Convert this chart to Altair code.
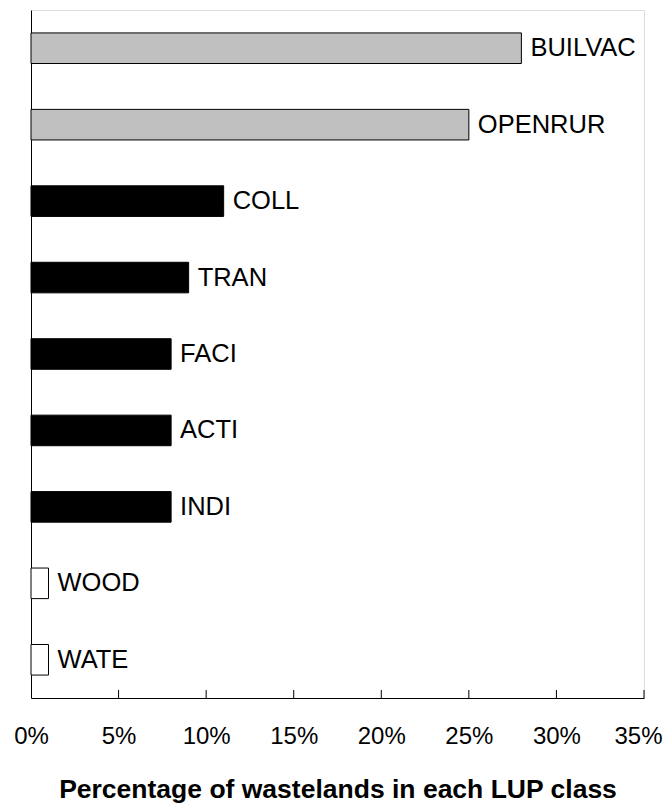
import altair as alt
import pandas as pd

categories = ["BUILVAC", "OPENRUR", "COLL", "TRAN", "FACI", "ACTI", "INDI", "WOOD", "WATE"]
values = [0.28, 0.25, 0.11, 0.09, 0.08, 0.08, 0.08, 0.01, 0.01]
groups = ["gray", "gray", "black", "black", "black", "black", "black", "white", "white"]
tick_values = [0.05, 0.10, 0.15, 0.20, 0.25, 0.30, 0.35]

df = pd.DataFrame({"cat": categories, "val": values, "grp": groups})
ticks_df = pd.DataFrame({"t": tick_values})

W = 613
H = 688
FONT = "Liberation Sans"

xscale = alt.Scale(domain=[0, 0.35], nice=False, zero=True)
yscale = alt.Scale(domain=categories, paddingInner=0.6, paddingOuter=0.3)

bars = alt.Chart(df).mark_bar(stroke="black", strokeWidth=1).encode(
    x=alt.X("val:Q", scale=xscale,
            axis=alt.Axis(values=[0, 0.05, 0.10, 0.15, 0.20, 0.25, 0.30, 0.35],
                          format=".0%", ticks=False, grid=False, domain=True,
                          domainColor="black", domainWidth=1,
                          labelFont=FONT, labelFontSize=24, labelColor="black",
                          labelPadding=26, labelFlush=False,
                          labelOffset={"condition": {"test": "datum.value > 0.34", "value": -6},
                                       "value": 0},
                          title="Percentage of wastelands in each LUP class",
                          titleFont=FONT, titleFontSize=26.5, titleFontWeight="bold",
                          titleColor="black", titlePadding=28)),
    y=alt.Y("cat:N", scale=yscale,
            axis=alt.Axis(labels=False, ticks=False, title=None, grid=False,
                          domain=True, domainColor="black", domainWidth=1)),
    fill=alt.Fill("grp:N",
                  scale=alt.Scale(domain=["gray", "black", "white"],
                                  range=["#c0c0c0", "#000000", "#ffffff"]),
                  legend=None),
)

labels = alt.Chart(df).mark_text(align="left", baseline="middle", dx=9,
                                 font=FONT, fontSize=25.5, color="black").encode(
    x=alt.X("val:Q", scale=xscale),
    y=alt.Y("cat:N", scale=yscale),
    text="cat:N",
)

tickmarks = alt.Chart(ticks_df).mark_rule(color="black", strokeWidth=1).encode(
    x=alt.X("t:Q", scale=xscale),
    y=alt.value(H - 8),
    y2=alt.value(H),
)

chart = alt.layer(bars, labels, tickmarks).properties(
    width=W, height=H,
    autosize=alt.AutoSizeParams(type="none"),
    padding={"left": 23, "top": 2, "right": 19, "bottom": 109},
).configure_view(stroke=None).configure(background="white")

chart.save("out.html", embed_options={"renderer": "svg", "actions": False})
